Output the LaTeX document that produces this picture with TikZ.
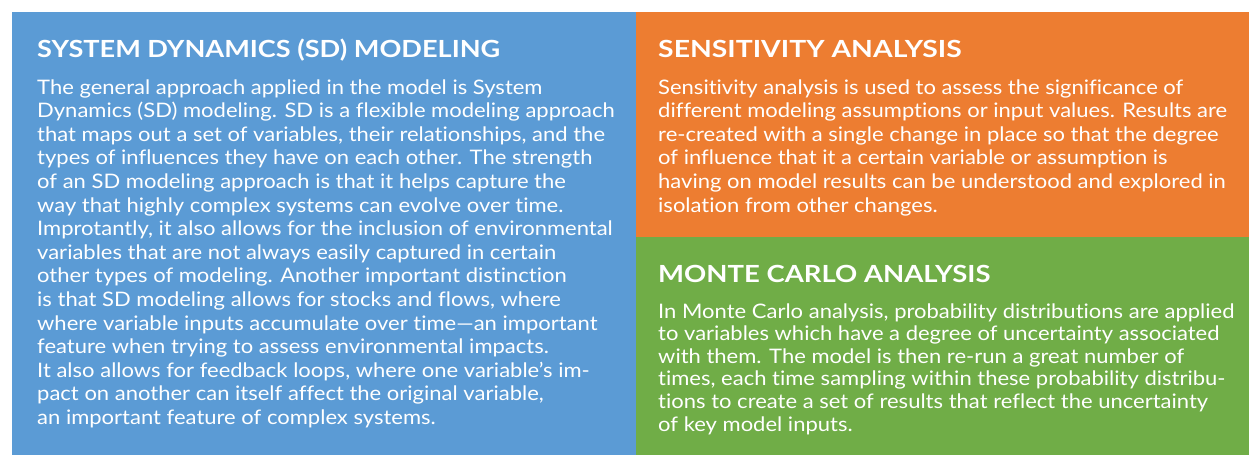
\documentclass[tikz,border=0pt]{standalone}
\usepackage{fontspec}
\setmainfont{Lato}[FakeStretch=1.10, Ligatures=NoCommon]
\newfontfamily\ttlfont{Lato}[FakeStretch=1.0, Ligatures=NoCommon]
\definecolor{sdblue}{HTML}{5B9BD5}
\definecolor{saorange}{HTML}{ED7D31}
\definecolor{mcgreen}{HTML}{70AD47}
\tikzset{
  panel/.style={draw=none},
  ttl/.style={anchor=base west, inner sep=0, text=white, font=\ttlfont\fontsize{23.6}{28}\selectfont\bfseries},
  bodytxt/.style={anchor=base west, inner sep=0, text=white}
}
\newcommand{\bodylines}[2][23.6]{\parbox[t]{620pt}{\raggedright\fontsize{20}{#1}\selectfont #2}}
\begin{document}
\begin{tikzpicture}[x=1pt,y=-1pt]
\useasboundingbox (0,0) rectangle (1249,455);
\fill[panel, sdblue] (12,12) rectangle (636,455);
\fill[panel, saorange] (636,12) rectangle (1249,237);
\fill[panel, mcgreen] (636,237) rectangle (1249,455);

\node[ttl] (t1) at (37,57) {\scalebox{1.149}[1]{SYSTEM DYNAMICS (SD) MODELING}};
\node[bodytxt] (b1) at (37,94) {\bodylines{%
The general approach applied in the model is System\\
Dynamics (SD) modeling. SD is a flexible modeling approach\\
that maps out a set of variables, their relationships, and the\\
types of influences they have on each other. The strength\\
of an SD modeling approach is that it helps capture the\\
way that highly complex systems can evolve over time.\\
Improtantly, it also allows for the inclusion of environmental\\
variables that are not always easily captured in certain\\
other types of modeling. Another important distinction\\
is that SD modeling allows for stocks and flows, where\\
where variable inputs accumulate over time---an important\\
feature when trying to assess environmental impacts.\\
It also allows for feedback loops, where one variable's im-\\
pact on another can itself affect the original variable,\\
an important feature of complex systems.}};

\node[ttl] (t2) at (658,57) {\scalebox{1.2}[1]{SENSITIVITY ANALYSIS}};
\node[bodytxt] (b2) at (658,94) {\bodylines{%
Sensitivity analysis is used to assess the significance of\\
different modeling assumptions or input values. Results are\\
re-created with a single change in place so that the degree\\
of influence that it a certain variable or assumption is\\
having on model results can be understood and explored in\\
isolation from other changes.}};

\node[ttl] (t3) at (658,282) {\scalebox{1.165}[1]{MONTE CARLO ANALYSIS}};
\node[bodytxt] (b3) at (658,318) {\bodylines[22.6]{%
In Monte Carlo analysis, probability distributions are applied\\
to variables which have a degree of uncertainty associated\\
with them. The model is then re-run a great number of\\
times, each time sampling within these probability distribu-\\
tions to create a set of results that reflect the uncertainty\\
of key model inputs.}};
\end{tikzpicture}
\end{document}
